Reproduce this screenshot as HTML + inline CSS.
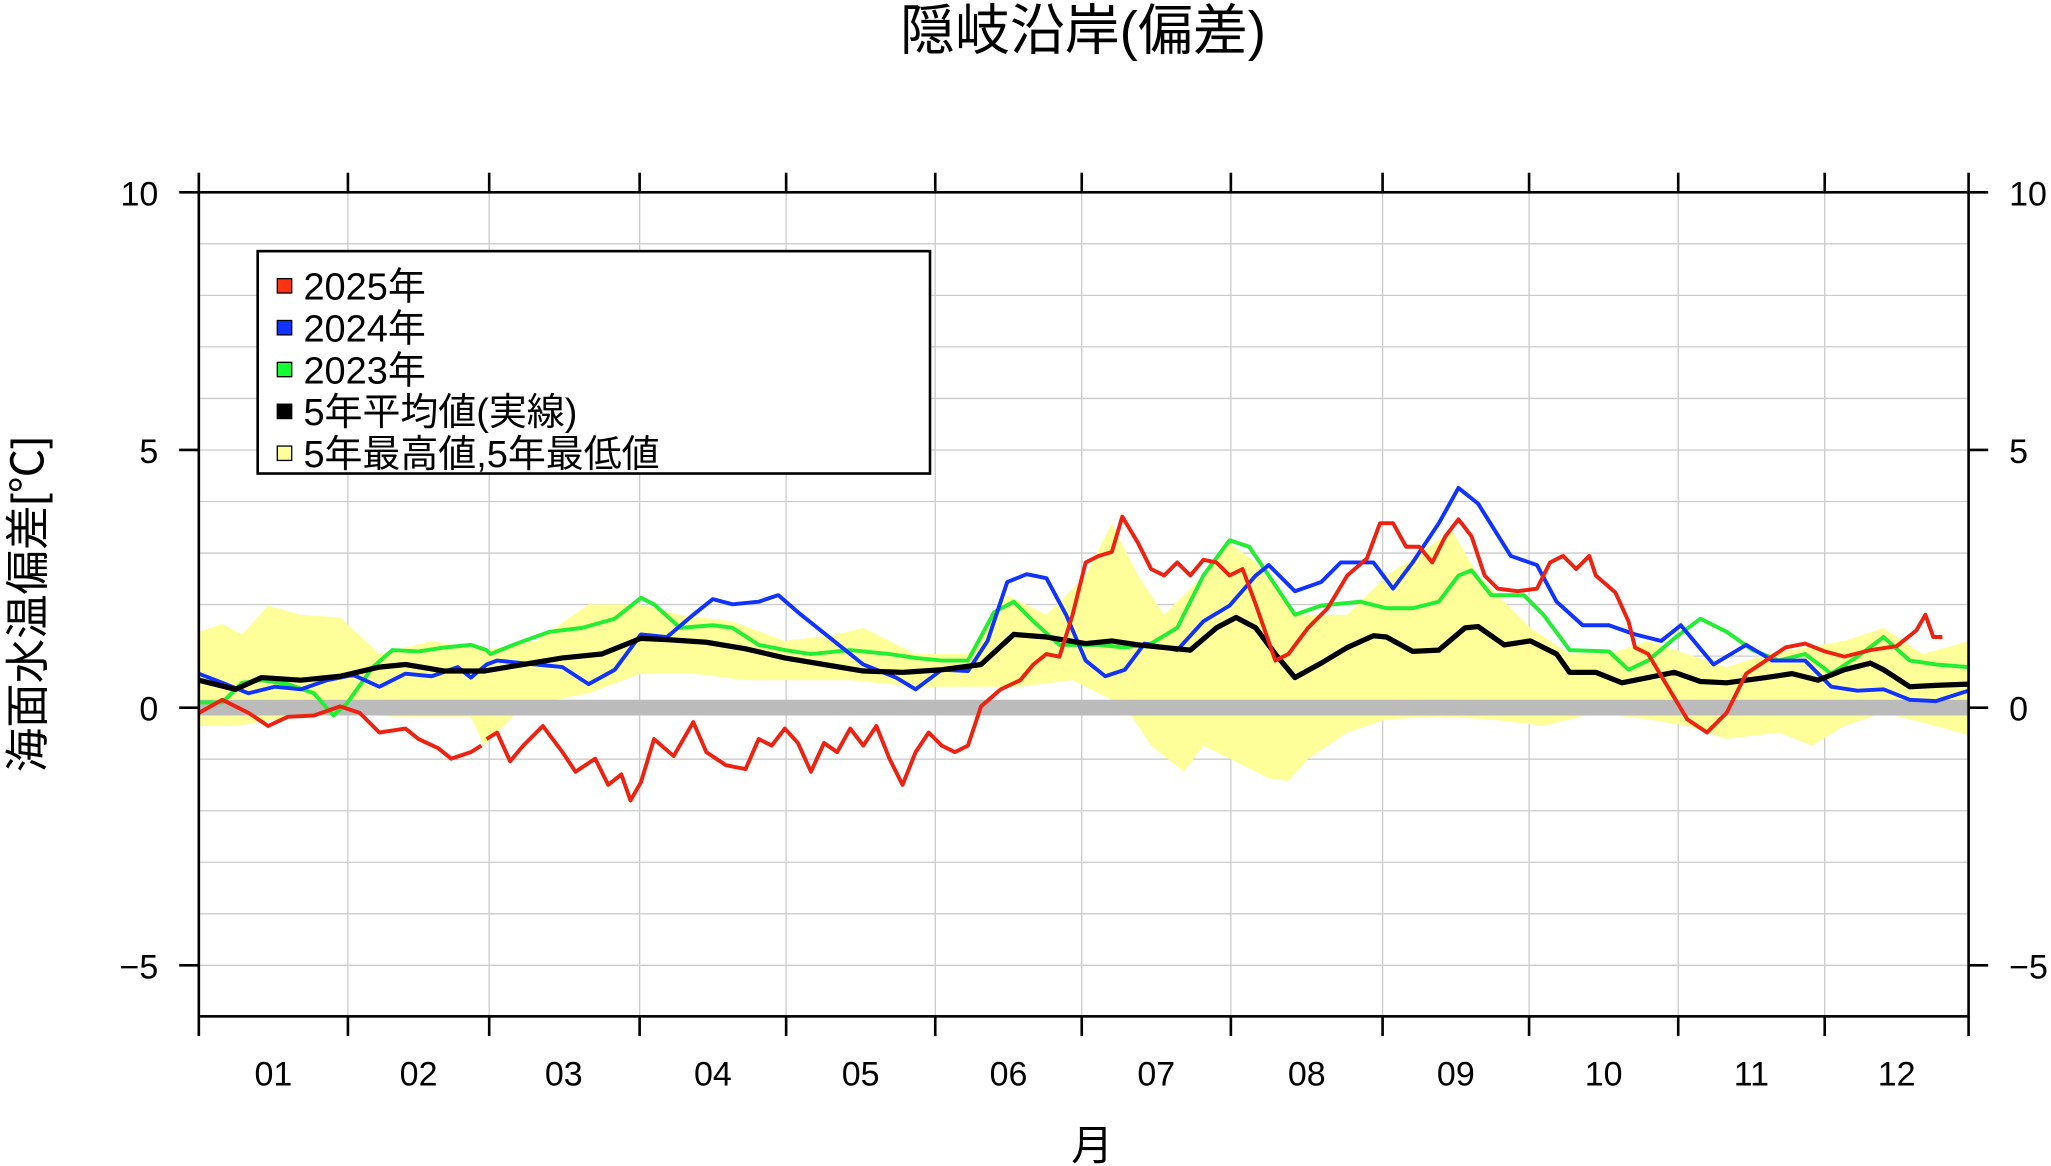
<!DOCTYPE html>
<html><head><meta charset="utf-8"><style>html,body{margin:0;padding:0;background:#fff}svg{display:block}text{font-family:"Liberation Sans","Noto Sans CJK JP",sans-serif;fill:#000}</style></head><body>
<svg width="2051" height="1166" viewBox="0 0 1568 891.4" xmlns="http://www.w3.org/2000/svg">
<text x="828" y="38" font-size="42" text-anchor="middle">隠岐沿岸(偏差)</text>
<g stroke="#ccc" stroke-width="1">
<line x1="152" x2="1505" y1="186.4" y2="186.4"/><line x1="152" x2="1505" y1="225.8" y2="225.8"/><line x1="152" x2="1505" y1="265.2" y2="265.2"/><line x1="152" x2="1505" y1="304.6" y2="304.6"/><line x1="152" x2="1505" y1="344" y2="344"/><line x1="152" x2="1505" y1="383.4" y2="383.4"/><line x1="152" x2="1505" y1="422.8" y2="422.8"/><line x1="152" x2="1505" y1="462.2" y2="462.2"/><line x1="152" x2="1505" y1="501.6" y2="501.6"/><line x1="152" x2="1505" y1="580.4" y2="580.4"/><line x1="152" x2="1505" y1="619.8" y2="619.8"/><line x1="152" x2="1505" y1="659.2" y2="659.2"/><line x1="152" x2="1505" y1="698.6" y2="698.6"/><line x1="152" x2="1505" y1="738" y2="738"/>
<line y1="147" y2="777" x1="266" x2="266"/><line y1="147" y2="777" x1="374" x2="374"/><line y1="147" y2="777" x1="489" x2="489"/><line y1="147" y2="777" x1="601" x2="601"/><line y1="147" y2="777" x1="715" x2="715"/><line y1="147" y2="777" x1="827" x2="827"/><line y1="147" y2="777" x1="941" x2="941"/><line y1="147" y2="777" x1="1057" x2="1057"/><line y1="147" y2="777" x1="1169" x2="1169"/><line y1="147" y2="777" x1="1283" x2="1283"/><line y1="147" y2="777" x1="1395" x2="1395"/>
</g>
<polygon fill="#ffff99" points="152,483 170,477 185,485 205,463 230,470 260,472 290,500 330,490 370,497 410,490 450,462 490,462 520,470 560,475 600,490 640,485 660,480 700,500 740,500 770,455 800,470 830,440 850,400 870,440 890,470 920,440 940,415 960,430 990,470 1030,470 1060,440 1090,420 1110,405 1130,440 1150,460 1170,480 1200,500 1230,500 1260,490 1290,500 1320,510 1350,500 1380,495 1410,490 1440,480 1470,500 1505,490 1505,562 1480,555 1440,545 1410,555 1385,570 1360,560 1320,565 1290,555 1260,550 1220,545 1180,555 1140,550 1100,548 1060,550 1030,560 1000,580 985,597 970,595 940,580 920,570 905,590 880,570 860,540 820,520 780,525 740,525 700,525 650,520 610,520 570,520 530,515 490,515 450,530 400,540 370,570 360,548 330,548 300,548 270,545 240,545 210,550 180,555 152,555"/>
<line x1="152" x2="1505" y1="541" y2="541" stroke="#bbb" stroke-width="12"/>
<g fill="none" stroke-width="3" stroke-linejoin="round">
<polyline stroke="#22ee33" points="152,537 170,537 185,522 200,520 220,523 240,530 255,547 265,538 285,510 300,497 320,498 340,495 360,493 372,497 375,500 395,492 420,483 445,480 470,473 490,457 500,462 520,480 545,478 560,480 580,493 600,497 620,500 650,497 680,500 700,503 720,505 740,505 760,468 775,460 790,475 810,493 840,493 860,495 880,492 900,480 920,440 940,413 955,418 970,440 990,470 1010,463 1040,460 1060,465 1080,465 1100,460 1115,440 1125,436 1140,455 1165,455 1180,470 1200,497 1230,498 1245,512 1260,505 1280,488 1300,473 1320,483 1340,497 1360,505 1380,500 1400,515 1420,502 1440,487 1460,505 1480,508 1505,510"/>
<polyline stroke="#1133ff" points="152,515 170,522 190,530 210,525 230,527 250,520 270,516 290,525 310,515 330,517 350,510 360,518 372,508 380,505 410,508 430,510 450,523 470,512 490,485 510,487 530,470 545,458 560,462 580,460 595,455 610,468 640,492 660,508 685,518 700,527 720,512 740,513 755,490 770,445 785,439 800,442 815,470 830,505 845,517 860,512 875,492 900,497 920,475 940,463 960,440 970,432 990,452 1010,445 1025,430 1050,430 1065,450 1080,430 1100,400 1115,373 1130,385 1155,425 1175,432 1190,460 1210,478 1230,478 1250,485 1270,490 1285,478 1310,508 1335,493 1355,505 1380,505 1400,525 1420,528 1440,527 1460,535 1480,536 1505,528"/>
<polyline stroke="#000" stroke-width="4" points="152,520 180,527 200,518 230,520 260,517 290,510 310,508 340,513 370,513 400,508 430,503 460,500 490,488 510,489 540,491 570,496 600,503 630,508 660,513 690,514 720,512 750,508 775,485 800,487 830,492 850,490 870,493 890,495 910,497 930,480 945,472 960,480 975,500 990,518 1010,507 1030,495 1050,486 1060,487 1080,498 1100,497 1120,480 1130,479 1150,493 1170,490 1190,500 1200,514 1220,514 1240,522 1260,518 1280,514 1300,521 1320,522 1350,518 1370,515 1390,520 1410,512 1430,507 1440,512 1460,525 1480,524 1505,523"/>
<polyline stroke="#ee2211" points="152,545 170,535 190,545 205,555 220,548 240,547 260,540 275,545 290,560 310,557 320,565 335,572 345,580 360,575 368,570"/>
<polyline stroke="#ee2211" points="372,565 380,560 390,582 400,570 415,555 430,575 440,590 455,580 465,600 475,592 482,612 490,598 500,565 515,578 530,552 540,575 555,585 570,588 580,565 590,570 600,557 610,568 620,590 630,568 640,575 650,557 660,570 670,555 680,580 690,600 700,575 710,560 720,570 730,575 740,570 750,540 765,527 780,520 790,508 800,500 810,502 820,470 830,430 840,425 850,422 858,395 870,415 880,435 890,440 900,430 910,440 920,428 930,430 940,440 950,435 960,462 975,505 985,500 1000,480 1015,465 1030,440 1045,427 1055,400 1065,400 1075,418 1085,418 1095,430 1105,410 1115,397 1125,410 1135,440 1145,450 1160,452 1175,450 1185,430 1195,425 1205,435 1215,425 1220,440 1235,453 1245,475 1250,495 1260,500 1275,525 1290,550 1305,560 1320,545 1335,515 1350,505 1365,495 1380,492 1395,498 1410,502 1430,497 1450,494 1465,482 1472,470 1478,487 1485,487"/>
</g>
<rect x="152" y="147" width="1353" height="630" fill="none" stroke="#000" stroke-width="2"/>
<g stroke="#000" stroke-width="2">
<line x1="137" x2="152" y1="147" y2="147"/><line x1="137" x2="152" y1="344" y2="344"/><line x1="137" x2="152" y1="541" y2="541"/><line x1="137" x2="152" y1="738" y2="738"/>
<line x1="1505" x2="1520" y1="147" y2="147"/><line x1="1505" x2="1520" y1="344" y2="344"/><line x1="1505" x2="1520" y1="541" y2="541"/><line x1="1505" x2="1520" y1="738" y2="738"/>
<line y1="132" y2="147" x1="152" x2="152"/><line y1="132" y2="147" x1="266" x2="266"/><line y1="132" y2="147" x1="374" x2="374"/><line y1="132" y2="147" x1="489" x2="489"/><line y1="132" y2="147" x1="601" x2="601"/><line y1="132" y2="147" x1="715" x2="715"/><line y1="132" y2="147" x1="827" x2="827"/><line y1="132" y2="147" x1="941" x2="941"/><line y1="132" y2="147" x1="1057" x2="1057"/><line y1="132" y2="147" x1="1169" x2="1169"/><line y1="132" y2="147" x1="1283" x2="1283"/><line y1="132" y2="147" x1="1395" x2="1395"/><line y1="132" y2="147" x1="1505" x2="1505"/>
<line y1="777" y2="792" x1="152" x2="152"/><line y1="777" y2="792" x1="266" x2="266"/><line y1="777" y2="792" x1="374" x2="374"/><line y1="777" y2="792" x1="489" x2="489"/><line y1="777" y2="792" x1="601" x2="601"/><line y1="777" y2="792" x1="715" x2="715"/><line y1="777" y2="792" x1="827" x2="827"/><line y1="777" y2="792" x1="941" x2="941"/><line y1="777" y2="792" x1="1057" x2="1057"/><line y1="777" y2="792" x1="1169" x2="1169"/><line y1="777" y2="792" x1="1283" x2="1283"/><line y1="777" y2="792" x1="1395" x2="1395"/><line y1="777" y2="792" x1="1505" x2="1505"/>
</g>
<g font-size="26" text-anchor="end"><text x="121" y="157">10</text><text x="121" y="354">5</text><text x="121" y="551">0</text><text x="121" y="748">−5</text></g>
<g font-size="26" text-anchor="start"><text x="1536" y="157">10</text><text x="1536" y="354">5</text><text x="1536" y="551">0</text><text x="1536" y="748">−5</text></g>
<g font-size="26" text-anchor="middle"><text x="209" y="830">01</text><text x="320" y="830">02</text><text x="431" y="830">03</text><text x="545" y="830">04</text><text x="658" y="830">05</text><text x="771" y="830">06</text><text x="884" y="830">07</text><text x="999" y="830">08</text><text x="1113" y="830">09</text><text x="1226" y="830">10</text><text x="1339" y="830">11</text><text x="1450" y="830">12</text></g>
<text x="835" y="887" font-size="32" text-anchor="middle">月</text>
<text transform="translate(33,462) rotate(-90)" font-size="34" text-anchor="middle">海面水温偏差[℃]</text>
<rect x="197" y="192" width="514" height="170" fill="#fff" stroke="#000" stroke-width="2"/>
<g stroke="#000" stroke-width="1"><rect x="212" y="213" width="11" height="11" fill="#ff3311"/><rect x="212" y="245" width="11" height="11" fill="#1133ff"/><rect x="212" y="277" width="11" height="11" fill="#11ff33"/><rect x="212" y="309" width="11" height="11" fill="#000"/><rect x="212" y="341" width="11" height="11" fill="#ffff99"/></g>
<g font-size="29"><text x="232" y="229">2025年</text><text x="232" y="261">2024年</text><text x="232" y="293">2023年</text><text x="232" y="325">5年平均値(実線)</text><text x="232" y="357">5年最高値,5年最低値</text></g>
</svg>
</body></html>
